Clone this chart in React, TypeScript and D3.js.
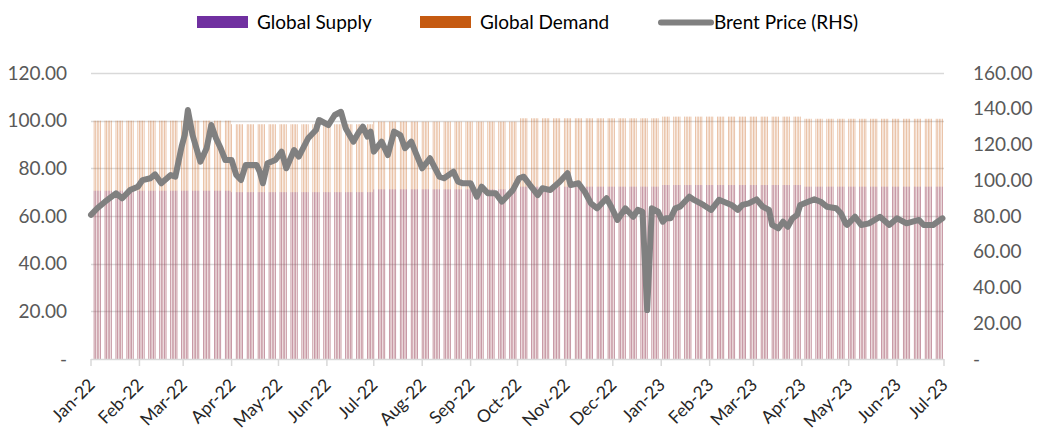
import React, { useEffect, useRef } from 'react';
import * as d3 from 'd3';

// quarterly supply / demand levels (mb/d), repeated on each business day
const quarterStarts = ['2022-01-01', '2022-04-01', '2022-07-01', '2022-10-01', '2023-01-01', '2023-04-01'];
const globalSupply = [70.6, 70.0, 71.2, 72.3, 73.0, 72.3];
const globalDemand = [100.0, 98.5, 99.6, 101.0, 101.7, 100.8];
const barStart = '2022-01-03';
const barEnd = '2023-06-30';

// Brent price (RHS)
const brentDates = [
  '2022-01-01', '2022-01-05', '2022-01-10', '2022-01-17', '2022-01-21', '2022-01-26', '2022-01-31',
  '2022-02-03', '2022-02-08', '2022-02-11', '2022-02-15', '2022-02-21', '2022-02-24', '2022-02-28',
  '2022-03-02', '2022-03-04', '2022-03-07', '2022-03-12', '2022-03-16', '2022-03-19', '2022-03-22',
  '2022-03-25', '2022-03-28', '2022-04-01', '2022-04-04', '2022-04-07', '2022-04-10', '2022-04-17',
  '2022-04-19', '2022-04-21', '2022-04-24', '2022-04-29', '2022-05-03', '2022-05-06', '2022-05-11',
  '2022-05-14', '2022-05-20', '2022-05-25', '2022-05-27', '2022-06-02', '2022-06-06', '2022-06-10',
  '2022-06-13', '2022-06-18', '2022-06-21', '2022-06-24', '2022-06-27', '2022-06-29', '2022-07-01',
  '2022-07-06', '2022-07-10', '2022-07-14', '2022-07-18', '2022-07-21', '2022-07-25', '2022-07-28',
  '2022-08-01', '2022-08-06', '2022-08-12', '2022-08-15', '2022-08-21', '2022-08-24', '2022-08-27',
  '2022-09-01', '2022-09-05', '2022-09-08', '2022-09-12', '2022-09-17', '2022-09-21', '2022-09-24',
  '2022-09-28', '2022-10-02', '2022-10-05', '2022-10-09', '2022-10-14', '2022-10-17', '2022-10-22',
  '2022-10-28', '2022-11-02', '2022-11-04', '2022-11-09', '2022-11-13', '2022-11-17', '2022-11-21',
  '2022-11-27', '2022-11-30', '2022-12-04', '2022-12-09', '2022-12-14', '2022-12-17', '2022-12-20',
  '2022-12-23', '2022-12-26', '2022-12-30', '2023-01-02', '2023-01-04', '2023-01-07', '2023-01-10',
  '2023-01-13', '2023-01-16', '2023-01-19', '2023-01-22', '2023-01-28', '2023-02-02', '2023-02-07',
  '2023-02-10', '2023-02-15', '2023-02-19', '2023-02-22', '2023-02-26', '2023-03-03', '2023-03-07',
  '2023-03-11', '2023-03-13', '2023-03-17', '2023-03-20', '2023-03-23', '2023-03-26', '2023-03-29',
  '2023-03-31', '2023-04-05', '2023-04-09', '2023-04-13', '2023-04-17', '2023-04-23', '2023-04-26',
  '2023-04-29', '2023-04-30', '2023-05-05', '2023-05-09', '2023-05-14', '2023-05-21', '2023-05-27',
  '2023-06-01', '2023-06-07', '2023-06-15', '2023-06-18', '2023-06-24', '2023-06-30',
];
const brentPrice = [
  80.6, 84.3, 88.0, 92.7, 89.9, 94.5, 96.4,
  100.1, 101.1, 103.3, 98.3, 102.9, 102.0, 118.8,
  125.3, 139.3, 125.3, 110.4, 117.9, 130.9, 123.5,
  117.9, 111.3, 111.3, 102.9, 100.1, 108.5, 108.5,
  104.8, 98.3, 109.5, 111.3, 116.0, 106.7, 116.9,
  113.2, 123.5, 128.1, 133.7, 130.9, 136.5, 138.3,
  129.1, 121.6, 126.3, 130.0, 124.4, 127.2, 116.0,
  121.6, 114.1, 127.2, 125.3, 117.9, 121.6, 115.1,
  106.7, 112.3, 102.0, 101.1, 104.8, 99.2, 98.3,
  98.3, 90.8, 96.4, 92.7, 92.7, 88.0, 90.8,
  94.5, 101.1, 102.0, 97.3, 91.7, 95.5, 94.5,
  99.2, 103.9, 97.3, 98.3, 93.6, 87.1, 84.3,
  89.9, 85.2, 77.8, 84.3, 79.6, 83.4, 82.4,
  27.4, 84.3, 82.4, 76.8, 78.7, 78.7, 84.3,
  85.2, 88.0, 90.8, 89.0, 86.2, 83.4, 89.0,
  88.0, 86.2, 83.4, 86.2, 87.1, 89.3, 85.2,
  83.4, 75.0, 73.1, 76.8, 74.0, 78.7, 80.6,
  86.2, 88.0, 89.3, 88.0, 85.2, 84.3, 81.5,
  75.9, 75.0, 79.6, 75.0, 75.9, 79.6, 75.0,
  78.7, 75.9, 77.8, 75.0, 75.0, 78.7,
];

const leftTicks = [0, 20, 40, 60, 80, 100, 120];
const rightTicks = [0, 20, 40, 60, 80, 100, 120, 140, 160];
const axisStart = '2022-01-01';
const axisEnd = '2023-07-01';

const legendItems = [
  { label: 'Global Supply', color: '#7030A0', kind: 'rect' },
  { label: 'Global Demand', color: '#C55A11', kind: 'rect' },
  { label: 'Brent Price (RHS)', color: '#808080', kind: 'line' },
];

const FONT = 'Lato, "Open Sans", sans-serif';

const App = () => {
  const ref = useRef<HTMLDivElement>(null);

  useEffect(() => {
    const width = 1041;
    const height = 432;
    const parse = d3.timeParse('%Y-%m-%d');
    const fmt = (v: number) => (v === 0 ? '-' : v.toFixed(2));

    d3.select(ref.current).selectAll('*').remove();
    const svg = d3.select(ref.current)
      .append('svg')
      .attr('width', width)
      .attr('height', height)
      .style('display', 'block')
      .style('font-family', FONT);

    const x = d3.scaleTime()
      .domain([parse(axisStart)!, parse(axisEnd)!])
      .range([91, 944]);
    const yL = d3.scaleLinear().domain([0, 120]).range([359, 73]);
    const yR = d3.scaleLinear().domain([0, 160]).range([359, 73]);

    // gridlines
    svg.append('g')
      .selectAll('line')
      .data(leftTicks.slice(1))
      .enter()
      .append('line')
      .attr('x1', 91)
      .attr('x2', 944)
      .attr('y1', d => Math.round(yL(d)) + 0.5)
      .attr('y2', d => Math.round(yL(d)) + 0.5)
      .attr('stroke', '#d9d9d9')
      .attr('stroke-width', 1.5);

    // daily bars
    const qStarts = quarterStarts.map(s => parse(s)!);
    const days = d3.timeDay.range(parse(barStart)!, d3.timeDay.offset(parse(barEnd)!, 1))
      .filter(d => d.getDay() !== 0 && d.getDay() !== 6);
    const rows = days.map(d => {
      const qi = d3.bisectRight(qStarts, d) - 1;
      return { date: d, supply: globalSupply[qi], demand: globalDemand[qi] };
    });
    const bw = 0.8;

    svg.append('g')
      .selectAll('rect')
      .data(rows)
      .enter()
      .append('rect')
      .attr('x', d => x(d.date) - bw / 2)
      .attr('width', bw)
      .attr('y', d => yL(d.demand))
      .attr('height', d => yL(0) - yL(d.demand))
      .attr('fill', '#C55A11')
      .attr('fill-opacity', 0.45);

    svg.append('g')
      .selectAll('rect')
      .data(rows)
      .enter()
      .append('rect')
      .attr('x', d => x(d.date) - bw / 2)
      .attr('width', bw)
      .attr('y', d => yL(d.supply))
      .attr('height', d => yL(0) - yL(d.supply))
      .attr('fill', '#7030A0')
      .attr('fill-opacity', 0.35);

    // x axis
    const months = d3.timeMonth.range(parse(axisStart)!, d3.timeDay.offset(parse(axisEnd)!, 1));
    const xa = svg.append('g');
    xa.append('line')
      .attr('x1', 91)
      .attr('x2', 944)
      .attr('y1', 359.5)
      .attr('y2', 359.5)
      .attr('stroke', '#d9d9d9')
      .attr('stroke-width', 1.5);
    xa.selectAll('line.tick')
      .data(months)
      .enter()
      .append('line')
      .attr('class', 'tick')
      .attr('x1', d => x(d))
      .attr('x2', d => x(d))
      .attr('y1', 359)
      .attr('y2', 366)
      .attr('stroke', '#d9d9d9')
      .attr('stroke-width', 1.5);
    const tf = d3.timeFormat('%b-%y');
    xa.selectAll('text')
      .data(months)
      .enter()
      .append('text')
      .attr('transform', d => `translate(${x(d) + 5},${386}) rotate(-45)`)
      .attr('text-anchor', 'end')
      .style('font-size', '17.5px')
      .attr('fill', '#262626')
      .text(d => tf(d));

    // left axis labels
    svg.append('g')
      .selectAll('text')
      .data(leftTicks)
      .enter()
      .append('text')
      .attr('x', 67)
      .attr('y', d => yL(d))
      .attr('dy', '0.35em')
      .attr('text-anchor', 'end')
      .style('font-size', '19px')
      .attr('fill', '#595959')
      .text(d => fmt(d));

    // right axis labels
    svg.append('g')
      .selectAll('text')
      .data(rightTicks)
      .enter()
      .append('text')
      .attr('x', 973)
      .attr('y', d => yR(d))
      .attr('dy', '0.35em')
      .style('font-size', '19px')
      .attr('fill', '#595959')
      .text(d => fmt(d));

    // brent line
    const brent = brentDates.map((d, i) => ({ date: parse(d)!, value: brentPrice[i] }));
    const line = d3.line<{ date: Date; value: number }>()
      .x(d => x(d.date))
      .y(d => yR(d.value));
    svg.append('path')
      .datum(brent)
      .attr('d', line)
      .attr('fill', 'none')
      .attr('stroke', '#808080')
      .attr('stroke-width', 6)
      .attr('stroke-linejoin', 'round')
      .attr('stroke-linecap', 'round');

    // legend
    const lx = [197, 420, 658];
    const lg = svg.append('g');
    legendItems.forEach((item, i) => {
      if (item.kind === 'rect') {
        lg.append('rect')
          .attr('x', lx[i])
          .attr('y', 16)
          .attr('width', 51)
          .attr('height', 12)
          .attr('fill', item.color);
        lg.append('text')
          .attr('x', lx[i] + 60)
          .attr('y', 22)
          .attr('dy', '0.35em')
          .style('font-size', '19px')
          .attr('fill', '#000')
          .text(item.label);
      } else {
        lg.append('line')
          .attr('x1', lx[i] + 3)
          .attr('x2', lx[i] + 53)
          .attr('y1', 22.5)
          .attr('y2', 22.5)
          .attr('stroke', item.color)
          .attr('stroke-width', 6)
          .attr('stroke-linecap', 'round');
        lg.append('text')
          .attr('x', lx[i] + 56)
          .attr('y', 22)
          .attr('dy', '0.35em')
          .style('font-size', '19px')
          .attr('fill', '#000')
          .text(item.label);
      }
    });
  }, []);

  return <div ref={ref} style={{ position: 'absolute', left: 0, top: 0 }} />;
};

export default App;
